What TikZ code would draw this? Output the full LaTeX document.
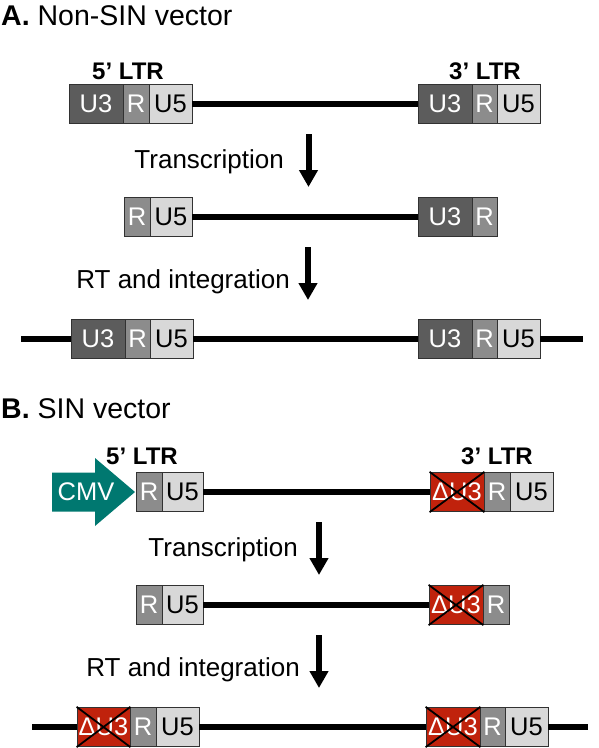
\documentclass[tikz,border=0pt]{standalone}
\usepackage{fontspec}
\setmainfont{Liberation Sans}
\usetikzlibrary{arrows.meta}
\definecolor{u3col}{RGB}{92,92,92}
\definecolor{rcol}{RGB}{140,140,140}
\definecolor{u5col}{RGB}{216,216,216}
\definecolor{bordercol}{RGB}{50,50,50}
\definecolor{redcol}{RGB}{192,34,12}
\definecolor{tealcol}{RGB}{0,120,112}
\tikzset{
  box/.style={draw=bordercol, line width=0.8pt, minimum height=39.5pt, inner sep=0pt,
    font=\fontsize{25.5}{30}\selectfont},
  u3/.style={box, fill=u3col, text=white},
  rr/.style={box, fill=rcol, text=white},
  u5/.style={box, fill=u5col, text=black},
  du3/.style={box, fill=redcol, text=white},
  dna/.style={line width=6pt, black},
  cross/.style={line width=1.8pt, black},
  down/.style={line width=6pt, -{Triangle[width=18pt,length=17pt]}},
  lbl/.style={font=\fontsize{26}{30}\selectfont, anchor=base east, inner sep=0pt},
  ltr/.style={font=\bfseries\fontsize{24}{28}\selectfont, anchor=base, inner sep=0pt},
  ttl/.style={font=\fontsize{28.5}{32}\selectfont, anchor=base west, inner sep=0pt},
}
\begin{document}
\begin{tikzpicture}[x=1pt,y=-1pt]
\useasboundingbox[fill=white] (0,0) rectangle (598,748);

% ---------- A ----------
\node[ttl] (titleA) at (1,25) {\textbf{A.} Non-SIN vector};
\node[ltr] (a5ltr) at (128,79) {5’ LTR};
\node[ltr] (a3ltr) at (485,79) {3’ LTR};

% row 1
\node[u3, minimum width=54pt] (a1u3) at (96,104) {U3};
\node[rr, minimum width=26pt] (a1r) at (136,104) {R};
\node[u5, minimum width=43pt] (a1u5) at (170.5,104) {U5};
\node[u3, minimum width=54pt] (a1u3b) at (445,104) {U3};
\node[rr, minimum width=25pt] (a1rb) at (484.5,104) {R};
\node[u5, minimum width=43pt] (a1u5b) at (518.5,104) {U5};
\draw[dna] (a1u5.east) -- (a1u3b.west);

% arrow 1
\node[lbl] (atr) at (284,168) {Transcription};
\coordinate (a1s) at (308.5,134);
\coordinate (a1e) at (308.5,187);
\draw[down] (a1s) -- (a1e);

% row 2
\node[rr, minimum width=26pt] (a2r) at (137,217) {R};
\node[u5, minimum width=42pt] (a2u5) at (171,217) {U5};
\node[u3, minimum width=54pt] (a2u3b) at (445,217) {U3};
\node[rr, minimum width=25pt] (a2rb) at (484.5,217) {R};
\draw[dna] (a2u5.east) -- (a2u3b.west);

% arrow 2
\node[lbl] (art) at (290,288) {RT and integration};
\coordinate (a2s) at (308,247);
\coordinate (a2e) at (308,300);
\draw[down] (a2s) -- (a2e);

% row 3
\coordinate (a3l) at (21,339);
\coordinate (a3rt) at (583,339);
\node[u3, minimum width=54pt] (a3u3) at (98,339) {U3};
\node[rr, minimum width=25pt] (a3r) at (137.5,339) {R};
\node[u5, minimum width=43pt] (a3u5) at (171.5,339) {U5};
\node[u3, minimum width=54pt] (a3u3b) at (445,339) {U3};
\node[rr, minimum width=25pt] (a3rb) at (484.5,339) {R};
\node[u5, minimum width=43pt] (a3u5b) at (518.5,339) {U5};
\draw[dna] (a3l) -- (a3u3.west);
\draw[dna] (a3u5.east) -- (a3u3b.west);
\draw[dna] (a3u5b.east) -- (a3rt);

% ---------- B ----------
\node[ttl] (titleB) at (1,418) {\textbf{B.} SIN vector};
\node[ltr] (b5ltr) at (142,464) {5’ LTR};
\node[ltr] (b3ltr) at (497,464) {3’ LTR};

% row 1
\fill[tealcol] (52,472.5) -- (95,472.5) -- (95,458) -- (135,492) -- (95,526) -- (95,511.5) -- (52,511.5) -- cycle;
\node[text=white, font=\fontsize{25.5}{30}\selectfont, inner sep=0pt] (cmv) at (86,492) {CMV};
\node[rr, minimum width=26pt] (b1r) at (149,492) {R};
\node[u5, minimum width=41pt] (b1u5) at (182.5,492) {U5};
\node[du3, minimum width=54pt] (b1du3) at (457,492) {ΔU3};
\node[rr, minimum width=26pt] (b1rb) at (497,492) {R};
\node[u5, minimum width=43pt] (b1u5b) at (531.5,492) {U5};
\draw[cross] (b1du3.north west) -- (b1du3.south east) (b1du3.north east) -- (b1du3.south west);
\draw[dna] (b1u5.east) -- (b1du3.west);

% arrow 3
\node[lbl] (btr) at (298,556) {Transcription};
\coordinate (b1s) at (319,522);
\coordinate (b1e) at (319,575);
\draw[down] (b1s) -- (b1e);

% row 2
\node[rr, minimum width=26pt] (b2r) at (149,605) {R};
\node[u5, minimum width=41pt] (b2u5) at (182.5,605) {U5};
\node[du3, minimum width=54pt] (b2du3) at (456,605) {ΔU3};
\node[rr, minimum width=26pt] (b2rb) at (496,605) {R};
\draw[cross] (b2du3.north west) -- (b2du3.south east) (b2du3.north east) -- (b2du3.south west);
\draw[dna] (b2u5.east) -- (b2du3.west);

% arrow 4
\node[lbl] (brt) at (300,676) {RT and integration};
\coordinate (b2s) at (319,635);
\coordinate (b2e) at (319,688);
\draw[down] (b2s) -- (b2e);

% row 3
\coordinate (b3l) at (32,727);
\coordinate (b3rt) at (588,727);
\node[du3, minimum width=53pt] (b3du3) at (103.5,727) {ΔU3};
\node[rr, minimum width=26pt] (b3r) at (143,727) {R};
\node[u5, minimum width=43pt] (b3u5) at (177.5,727) {U5};
\node[du3, minimum width=54pt] (b3du3b) at (453,727) {ΔU3};
\node[rr, minimum width=25pt] (b3rb) at (492.5,727) {R};
\node[u5, minimum width=43pt] (b3u5b) at (526.5,727) {U5};
\draw[cross] (b3du3.north west) -- (b3du3.south east) (b3du3.north east) -- (b3du3.south west);
\draw[cross] (b3du3b.north west) -- (b3du3b.south east) (b3du3b.north east) -- (b3du3b.south west);
\draw[dna] (b3l) -- (b3du3.west);
\draw[dna] (b3u5.east) -- (b3du3b.west);
\draw[dna] (b3u5b.east) -- (b3rt);
\end{tikzpicture}
\end{document}
